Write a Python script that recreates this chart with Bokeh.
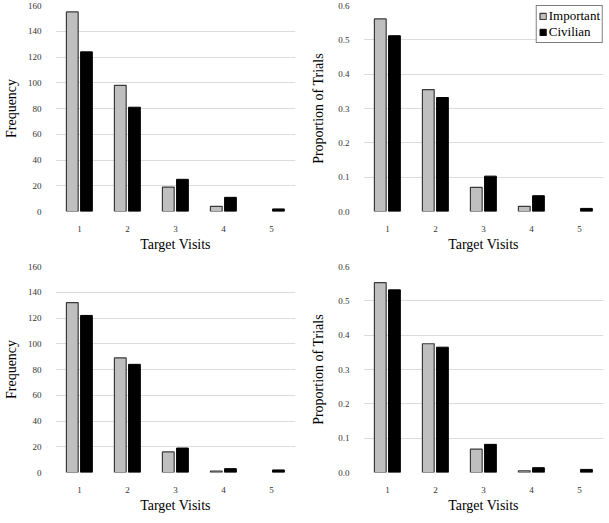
from bokeh.plotting import figure
from bokeh.models import ColumnDataSource, FixedTicker, NumeralTickFormatter, Legend, LegendItem, CDSView, BooleanFilter
from bokeh.transform import dodge
from bokeh.layouts import gridplot
from bokeh.embed import file_html
from bokeh.resources import INLINE

visits = [1, 2, 3, 4, 5]
visit_labels = ["1", "2", "3", "4", "5"]

# Top row
freq_important_top = [155, 98, 19, 4, 0]
freq_civilian_top = [124, 81, 25, 11, 2]
prop_important_top = [0.561, 0.355, 0.070, 0.015, 0.0]
prop_civilian_top = [0.512, 0.332, 0.103, 0.046, 0.009]

# Bottom row
freq_important_bot = [132, 89, 16, 1, 0]
freq_civilian_bot = [122, 84, 19, 3, 2]
prop_important_bot = [0.553, 0.375, 0.068, 0.005, 0.0]
prop_civilian_bot = [0.532, 0.365, 0.082, 0.014, 0.009]

freq_ticks = [0, 20, 40, 60, 80, 100, 120, 140, 160]
prop_ticks = [0.0, 0.1, 0.2, 0.3, 0.4, 0.5, 0.6]

SERIF = "Liberation Serif"
GRAY = "#bfbfbf"
OUTLINE = "#3a3a3a"
FRAME_H = 206


def style_axis(ax):
    ax.axis_line_color = None
    ax.major_tick_line_color = None
    ax.minor_tick_line_color = None
    ax.major_label_text_font = SERIF
    ax.major_label_text_font_size = "9px"
    ax.major_label_text_color = "#333333"
    ax.axis_label_text_font = SERIF
    ax.axis_label_text_font_size = "14px"
    ax.axis_label_text_font_style = "normal"
    ax.axis_label_text_color = "black"


def make_panel(imp, civ, ymax, yticks, ylabel, fmt, left, right, frame_w, top,
               ylabel_standoff, legend=False):
    src = ColumnDataSource(dict(x=visits, imp=imp, civ=civ))
    view_imp = CDSView(filter=BooleanFilter([v > 0 for v in imp]))
    view_civ = CDSView(filter=BooleanFilter([v > 0 for v in civ]))
    p = figure(output_backend="svg", toolbar_location=None,
               x_range=(0.5, 5.5), y_range=(0, ymax),
               min_border_left=left, min_border_right=right,
               min_border_top=top, min_border_bottom=0,
               frame_width=frame_w, frame_height=FRAME_H)
    p.outline_line_color = None
    p.background_fill_color = "white"
    r1 = p.vbar(x=dodge("x", -0.15, range=p.x_range), top="imp", width=0.245, bottom=0,
                source=src, view=view_imp, fill_color=GRAY, line_color=OUTLINE, line_width=1.2)
    r2 = p.vbar(x=dodge("x", 0.145, range=p.x_range), top="civ", width=0.245, bottom=0,
                source=src, view=view_civ, fill_color="black", line_color="black", line_width=1)

    p.xgrid.grid_line_color = None
    p.ygrid.grid_line_color = "#dcdcdc"
    p.ygrid.grid_line_width = 1
    p.ygrid.ticker = FixedTicker(ticks=yticks)

    xa = p.xaxis[0]
    ya = p.yaxis[0]
    xa.ticker = FixedTicker(ticks=visits)
    xa.major_label_overrides = {v: l for v, l in zip(visits, visit_labels)}
    ya.ticker = FixedTicker(ticks=yticks)
    ya.formatter = NumeralTickFormatter(format=fmt)
    style_axis(xa)
    style_axis(ya)
    xa.major_label_standoff = 8
    ya.major_label_standoff = 8
    xa.axis_label = "Target Visits"
    xa.axis_label_standoff = 2
    ya.axis_label = ylabel
    ya.axis_label_standoff = ylabel_standoff

    if legend:
        leg = Legend(items=[LegendItem(label="Important", renderers=[r1]),
                            LegendItem(label="Civilian", renderers=[r2])],
                     location="top_right")
        leg.label_text_font = SERIF
        leg.label_text_font_size = "13px"
        leg.label_text_color = "black"
        leg.glyph_width = 8
        leg.glyph_height = 8
        leg.label_height = 16
        leg.label_standoff = 2
        leg.spacing = 0
        leg.padding = 2
        leg.margin = 0
        leg.border_line_color = "black"
        leg.border_line_width = 1
        leg.background_fill_color = "white"
        leg.background_fill_alpha = 1
        p.add_layout(leg, "center")
    return p


p1 = make_panel(freq_important_top, freq_civilian_top, 160, freq_ticks, "Frequency", "0",
                40, 12, 240, 5, 6)
p2 = make_panel(prop_important_top, prop_civilian_top, 0.6, prop_ticks, "Proportion of Trials", "0.0",
                56, 5, 240, 5, 9, legend=True)
p3 = make_panel(freq_important_bot, freq_civilian_bot, 160, freq_ticks, "Frequency", "0",
                40, 12, 240, 12, 6)
p4 = make_panel(prop_important_bot, prop_civilian_bot, 0.6, prop_ticks, "Proportion of Trials", "0.0",
                56, 5, 240, 12, 9)

grid = gridplot([[p1, p2], [p3, p4]], toolbar_location=None)

open("out.html", "w").write(file_html(grid, INLINE))
